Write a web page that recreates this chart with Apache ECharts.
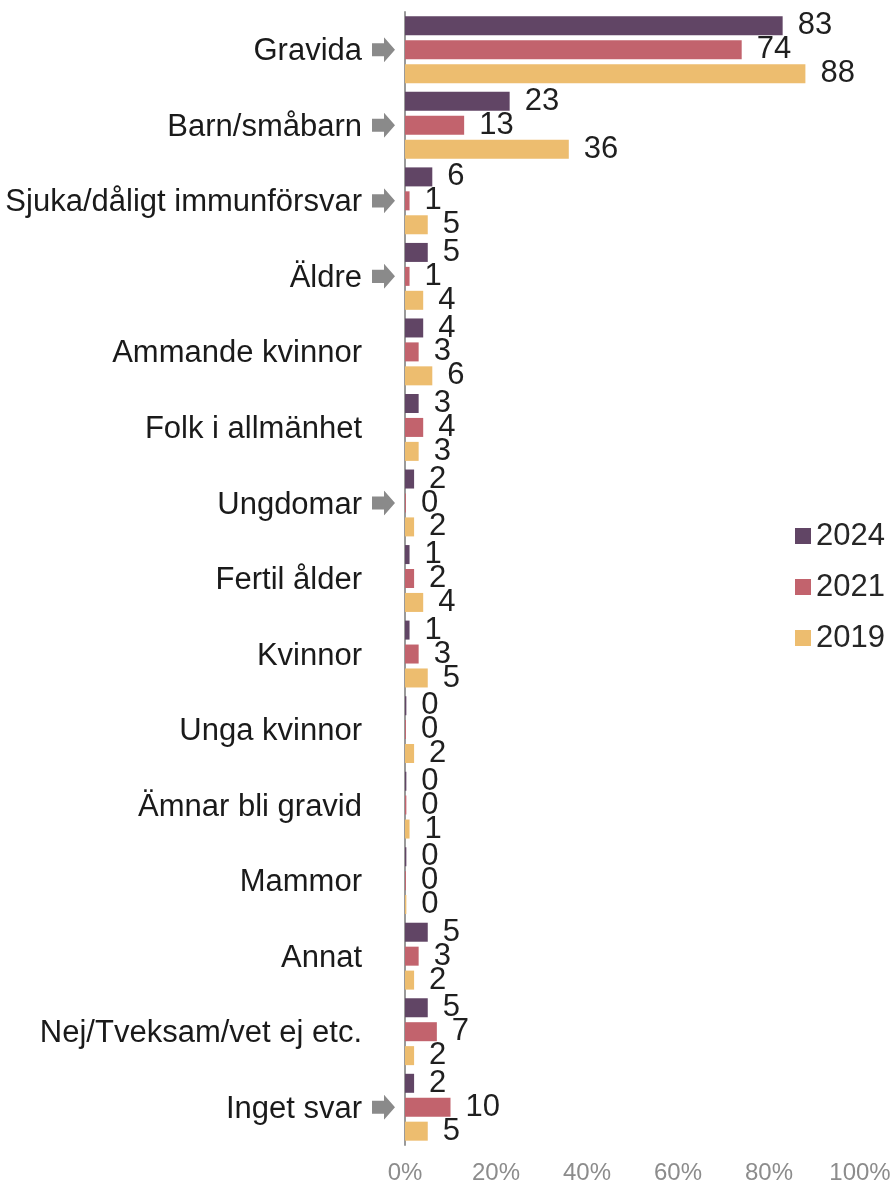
<!DOCTYPE html>
<html>
<head>
<meta charset="utf-8">
<script src="https://cdn.jsdelivr.net/npm/echarts@6/dist/echarts.min.js"></script>
<style>
html,body{margin:0;padding:0;background:#fff;}
#chart{width:896px;height:1185px;}
</style>
</head>
<body>
<div id="chart"></div>
<script>
const categories = ["Gravida","Barn/småbarn","Sjuka/dåligt immunförsvar","Äldre","Ammande kvinnor","Folk i allmänhet","Ungdomar","Fertil ålder","Kvinnor","Unga kvinnor","Ämnar bli gravid","Mammor","Annat","Nej/Tveksam/vet ej etc.","Inget svar"];
const arrowCategories = ["Gravida","Barn/småbarn","Sjuka/dåligt immunförsvar","Äldre","Ungdomar","Inget svar"];
const seriesNames = ["2024","2021","2019"];
const values2024 = [83,23,6,5,4,3,2,1,1,0.3,0.3,0.3,5,5,2];
const values2021 = [74,13,1,1,3,4,0.2,2,3,0.2,0.3,0.2,3,7,10];
const values2019 = [88,36,5,4,6,3,2,4,5,2,1,0.3,2,2,5];
const xTicks = [0,20,40,60,80,100];

const colors = ['#614565','#c2636d','#edbd6f'];
const arrowSvg = 'data:image/svg+xml;charset=utf-8,' + encodeURIComponent(
  '<svg xmlns="http://www.w3.org/2000/svg" width="23" height="21" viewBox="0 0 23 21"><path d="M0 5 H12 V0 L23 10.5 L12 21 V16 H0 Z" fill="#8a8a8a"/></svg>');

const font = "'Liberation Sans', Arial, sans-serif";
const chart = echarts.init(document.getElementById('chart'));
const data = [values2024, values2021, values2019];

chart.setOption({
  animation: false,
  textStyle: {fontFamily: font},
  grid: {left: 405, right: 36, top: 12, bottom: 39, containLabel: false},
  legend: {
    orient: 'vertical', left: 790, top: 515,
    itemWidth: 16, itemHeight: 16, itemGap: 19, icon: 'rect',
    textStyle: {fontSize: 31, color: '#262626', fontFamily: font, lineHeight: 32},
    data: seriesNames
  },
  xAxis: {
    type: 'value', min: xTicks[0], max: xTicks[xTicks.length-1], interval: 20,
    axisLine: {show: false}, axisTick: {show: false}, splitLine: {show: false},
    axisLabel: {formatter: '{value}%', color: '#8c8c8c', fontSize: 24, margin: 16, fontFamily: font}
  },
  yAxis: {
    type: 'category', inverse: true, data: categories,
    axisTick: {show: false},
    axisLine: {show: true, lineStyle: {color: '#9a9a9a', width: 2}},
    axisLabel: {
      margin: 10,
      formatter: function (v) {
        return '{t|' + v + '}{g|}' + (arrowCategories.indexOf(v) >= 0 ? '{a|}' : '{b|}');
      },
      rich: {
        t: {fontSize: 31, color: '#1a1a1a', fontFamily: font, padding: [4, 0, 0, 0]},
        g: {width: 10},
        a: {width: 23, height: 21, backgroundColor: {image: arrowSvg}, padding: [4, 0, 0, 0]},
        b: {width: 23, height: 21}
      }
    }
  },
  series: seriesNames.map((n, i) => ({
    name: n, type: 'bar', data: data[i],
    barWidth: 19, barGap: '26%', barCategoryGap: '11%',
    itemStyle: {color: colors[i]},
    label: {
      show: true, position: 'right', distance: 15,
      fontSize: 31, color: '#1f1f1f', fontFamily: font,
      formatter: p => String(Math.round(p.value))
    }
  }))
});
</script>
</body>
</html>
